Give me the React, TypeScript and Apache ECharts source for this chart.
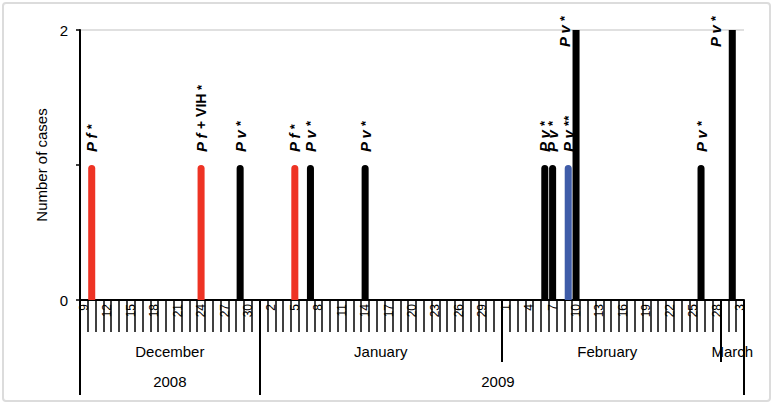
import React, { useEffect, useRef } from "react";
import * as echarts from "echarts";

// ---- data ----
const START_DATE = "2008-12-09";
const END_DATE = "2009-03-03";
const MONTH_NAMES = ["January", "February", "March", "April", "May", "June", "July", "August", "September", "October", "November", "December"];

const caseDates = ["2008-12-10", "2008-12-24", "2008-12-29", "2009-01-05", "2009-01-07", "2009-01-14", "2009-02-06", "2009-02-07", "2009-02-09", "2009-02-10", "2009-02-26", "2009-03-02"];
const caseCounts = [1, 1, 1, 1, 1, 1, 1, 1, 1, 2, 1, 2];
const caseSpecies = ["Pf", "Pf", "Pv", "Pf", "Pv", "Pv", "Pv", "Pv", "Pv", "Pv", "Pv", "Pv"];
const caseExtra = ["", " + VIH", "", "", "", "", "", "", "", "", "", ""];
const caseMarks = ["*", "*", "*", "*", "*", "*", "*", "*", "**", "*", "*", "*"];
const caseGroup = ["falciparum", "falciparum", "vivax", "falciparum", "vivax", "vivax", "vivax", "vivax", "relapse", "vivax", "vivax", "vivax"];

const yTicks = [0, 2];

// ---- styles ----
const GROUP_COLORS: Record<string, string> = { falciparum: "#ee3324", vivax: "#000000", relapse: "#3f5ca8" };
const FONT = 'Arial, "Liberation Sans", sans-serif';

function buildDays(): string[] {
  const out: string[] = [];
  const s = new Date(START_DATE + "T00:00:00Z");
  const e = new Date(END_DATE + "T00:00:00Z");
  for (let d = new Date(s); d <= e; d = new Date(d.getTime() + 86400000)) {
    out.push(d.toISOString().slice(0, 10));
  }
  return out;
}

export default function App() {
  const ref = useRef<HTMLDivElement>(null);
  useEffect(() => {
    if (!ref.current) return;
    const chart = echarts.init(ref.current, null, { renderer: "svg" });
    const days = buildDays();
    const monthOf = (d: string) => d.slice(0, 7);
    const yearOf = (d: string) => d.slice(0, 4);

    const groupInfo = (keyFn: (d: string) => string) => {
      const starts = new Set<number>();
      const mids = new Set<number>();
      let s = 0;
      for (let i = 1; i <= days.length; i++) {
        if (i === days.length || keyFn(days[i]) !== keyFn(days[i - 1])) {
          starts.add(s);
          mids.add(Math.floor((s + i - 1) / 2));
          s = i;
        }
      }
      return { starts, mids };
    };
    const months = groupInfo(monthOf);
    const years = groupInfo(yearOf);

    const barData: any[] = days.map(() => null);
    caseDates.forEach((d, i) => {
      const idx = days.indexOf(d);
      const tall = caseCounts[i] >= 2;
      const sp = caseSpecies[i].split("").join(" ");
      barData[idx] = {
        value: caseCounts[i],
        itemStyle: {
          color: GROUP_COLORS[caseGroup[i]],
          borderRadius: tall ? 0 : [4, 4, 0, 0],
        },
        label: {
          formatter: `{i|${sp}}` + (caseExtra[i] ? `{n|${caseExtra[i]}}` : "") + `{s| ${caseMarks[i]}}`,
          ...(tall ? { position: i === caseDates.length - 1 ? [-13, 17] : [-8, 17] } : {}),
        },
      };
    });

    const labelRich = {
      i: { fontFamily: FONT, fontSize: 15, fontWeight: "bold", fontStyle: "italic", color: "#000" },
      n: { fontFamily: FONT, fontSize: 14, fontWeight: "bold", color: "#000" },
      s: { fontFamily: FONT, fontSize: 13, fontWeight: "bold", color: "#000" },
    };

    chart.setOption({
      animation: false,
      backgroundColor: "#ffffff",
      graphic: [
        {
          type: "rect",
          shape: { x: 3, y: 3, width: 767, height: 398, r: 3 },
          style: { fill: "none", stroke: "#dcdcdc", lineWidth: 2 },
          silent: true,
        },
      ],
      grid: { left: 80, right: 31, top: 30, bottom: 107 },
      xAxis: [
        {
          type: "category",
          data: days,
          position: "bottom",
          boundaryGap: true,
          axisLine: { show: true, lineStyle: { color: "#000", width: 2 } },
          axisTick: { show: true, interval: 0, length: 32, lineStyle: { color: "#000", width: 1.5 } },
          axisLabel: {
            interval: 2,
            rotate: 90,
            margin: 4,
            fontSize: 12,
            fontFamily: FONT,
            color: "#000",
            formatter: (v: string) => String(parseInt(v.slice(8, 10), 10)),
          },
          splitLine: { show: false },
        },
        {
          type: "category",
          data: days,
          position: "bottom",
          boundaryGap: true,
          axisLine: { show: false },
          axisTick: {
            show: true,
            interval: (idx: number) => months.starts.has(idx),
            length: 62,
            lineStyle: { color: "#000", width: 2 },
          },
          axisLabel: {
            interval: (idx: number) => months.mids.has(idx),
            margin: 44,
            fontSize: 15,
            fontFamily: FONT,
            color: "#000",
            formatter: (v: string) => MONTH_NAMES[parseInt(v.slice(5, 7), 10) - 1],
          },
        },
        {
          type: "category",
          data: days,
          position: "bottom",
          boundaryGap: true,
          axisLine: { show: false },
          axisTick: {
            show: true,
            interval: (idx: number) => years.starts.has(idx),
            length: 95,
            lineStyle: { color: "#000", width: 2 },
          },
          axisLabel: {
            interval: (idx: number) => years.mids.has(idx),
            margin: 74,
            fontSize: 15,
            fontFamily: FONT,
            color: "#000",
            formatter: (v: string) => yearOf(v),
          },
        },
      ],
      yAxis: {
        type: "value",
        min: 0,
        max: 2,
        interval: 1,
        name: "Number of cases",
        nameLocation: "middle",
        nameGap: 31,
        nameTextStyle: { fontFamily: FONT, fontSize: 15, color: "#000" },
        axisLine: { show: true, lineStyle: { color: "#000", width: 2 } },
        axisTick: { show: true, length: 4, lineStyle: { color: "#000", width: 1.5 } },
        axisLabel: {
          fontFamily: FONT,
          fontSize: 15,
          color: "#000",
          margin: 12,
          formatter: (v: number) => (yTicks.includes(v) ? String(v) : ""),
        },
        splitLine: { show: true, lineStyle: { color: ["transparent", "transparent", "#d6d6d6"], width: 1.5 } },
      },
      series: [
        {
          type: "bar",
          xAxisIndex: 0,
          data: barData,
          barWidth: "90%",
          label: {
            show: true,
            position: "top",
            distance: 13,
            rotate: 90,
            align: "left",
            verticalAlign: "middle",
            rich: labelRich,
          },
        },
      ],
    });
    return () => chart.dispose();
  }, []);
  return (
    <div
      ref={ref}
      style={{ position: "fixed", left: 0, top: 0, width: 775, height: 407, background: "#fff" }}
    />
  );
}
